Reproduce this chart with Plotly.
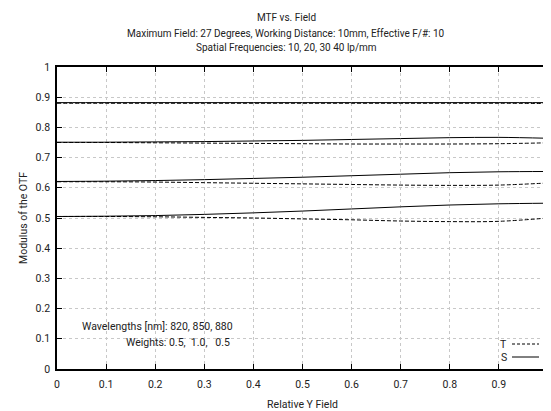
import plotly.graph_objects as go

field = [0.0, 0.1, 0.2, 0.3, 0.4, 0.5, 0.6, 0.7, 0.8, 0.9, 1.0]

s_10 = [0.882, 0.882, 0.882, 0.882, 0.882, 0.882, 0.882, 0.882, 0.882, 0.882, 0.882]
t_10 = [0.880, 0.880, 0.880, 0.880, 0.880, 0.880, 0.880, 0.880, 0.880, 0.880, 0.879]
s_20 = [0.751, 0.751, 0.752, 0.753, 0.755, 0.757, 0.760, 0.763, 0.766, 0.767, 0.764]
t_20 = [0.750, 0.750, 0.749, 0.748, 0.747, 0.746, 0.745, 0.745, 0.745, 0.746, 0.749]
s_30 = [0.621, 0.622, 0.624, 0.627, 0.631, 0.635, 0.640, 0.645, 0.650, 0.653, 0.654]
t_30 = [0.620, 0.620, 0.619, 0.617, 0.615, 0.613, 0.611, 0.609, 0.608, 0.609, 0.616]
s_40 = [0.505, 0.506, 0.508, 0.512, 0.517, 0.523, 0.530, 0.537, 0.543, 0.547, 0.549]
t_40 = [0.505, 0.505, 0.504, 0.502, 0.500, 0.497, 0.494, 0.490, 0.488, 0.489, 0.500]

x_ticks = [0, 0.1, 0.2, 0.3, 0.4, 0.5, 0.6, 0.7, 0.8, 0.9, 1]
x_labels = ["0", "0.1", "0.2", "0.3", "0.4", "0.5", "0.6", "0.7", "0.8", "0.9", "1"]
y_ticks = [0, 0.1, 0.2, 0.3, 0.4, 0.5, 0.6, 0.7, 0.8, 0.9, 1]
y_labels = ["0", "0.1", "0.2", "0.3", "0.4", "0.5", "0.6", "0.7", "0.8", "0.9", "1"]

title_lines = [
    "MTF vs. Field",
    "Maximum Field: 27 Degrees, Working Distance: 10mm, Effective F/#: 10",
    "Spatial Frequencies: 10, 20, 30 40 lp/mm",
]

FONT = "Roboto"
TXT = "#222"
W, H = 551, 411
OFF = 8  # page body offset
# plot area in page pixels: x 57..548, y 67..369
L = 57 - OFF
T = 67 - OFF
R = W - (548 - OFF)
B = H - (369 - OFF)
PW = W - L - R
PH = H - T - B


def px(x):
    return (x - OFF - L) / PW


def py(y):
    return (H - B - (y - OFF)) / PH


fig = go.Figure()
for s, t in [(s_10, t_10), (s_20, t_20), (s_30, t_30), (s_40, t_40)]:
    fig.add_trace(go.Scatter(x=field, y=t, mode="lines",
                             line=dict(color="black", width=1, dash="4px,2px", shape="spline"),
                             showlegend=False, hoverinfo="skip"))
    fig.add_trace(go.Scatter(x=field, y=s, mode="lines",
                             line=dict(color="black", width=1, shape="spline"),
                             showlegend=False, hoverinfo="skip"))

axis_common = dict(
    range=[0, 1], showline=True, linecolor="black", linewidth=1.5, mirror="ticks",
    ticks="inside", ticklen=5, tickwidth=1, tickcolor="black",
    showgrid=True, gridcolor="#c8c8c8", gridwidth=1, griddash="dot",
    zeroline=False, tickfont=dict(family=FONT, size=10.5, color=TXT),
    automargin=False,
)

fig.update_xaxes(**axis_common, tickvals=x_ticks, ticktext=x_labels, ticklabelstandoff=5,
                 title=dict(text="Relative Y Field", font=dict(family=FONT, size=10.5, color=TXT), standoff=10))
fig.update_yaxes(**axis_common, tickvals=y_ticks, ticktext=y_labels, ticklabelstandoff=3,
                 title=dict(text="Modulus of the OTF", font=dict(family=FONT, size=10.5, color=TXT), standoff=6))
fig.layout.xaxis.ticklabeloverflow = "allow"
fig.layout.yaxis.ticklabeloverflow = "allow"

annotations = []
for line_text, yc in zip(title_lines, [18, 33, 47]):
    annotations.append(dict(text=line_text, xref="paper", yref="paper", x=px(286), y=py(yc),
                            xanchor="center", yanchor="middle", showarrow=False,
                            font=dict(family=FONT, size=10, color=TXT)))

annotations += [
    dict(text="Wavelengths [nm]: 820, 850, 880", xref="paper", yref="paper",
         x=px(80), y=py(326), xanchor="left", yanchor="middle",
         showarrow=False, font=dict(family=FONT, size=10.5, color=TXT)),
    dict(text="Weights: 0.5,  1.0,   0.5", xref="paper", yref="paper",
         x=px(124), y=py(342), xanchor="left", yanchor="middle",
         showarrow=False, font=dict(family=FONT, size=10.5, color=TXT)),
    dict(text="T", xref="paper", yref="paper",
         x=px(509), y=py(344), xanchor="right", yanchor="middle",
         showarrow=False, font=dict(family=FONT, size=10.5, color=TXT)),
    dict(text="S", xref="paper", yref="paper",
         x=px(509), y=py(357), xanchor="right", yanchor="middle",
         showarrow=False, font=dict(family=FONT, size=10.5, color=TXT)),
]

shapes = [
    dict(type="line", xref="paper", yref="paper",
         x0=px(512), x1=px(539), y0=py(344), y1=py(344),
         line=dict(color="black", width=1, dash="3px,2px")),
    dict(type="line", xref="paper", yref="paper",
         x0=px(512), x1=px(539), y0=py(357), y1=py(357),
         line=dict(color="black", width=1)),
]

fig.update_layout(
    width=W, height=H, margin=dict(l=L, r=R, t=T, b=B, autoexpand=False),
    paper_bgcolor="white", plot_bgcolor="white",
    annotations=annotations, shapes=shapes,
    font=dict(family=FONT, size=10.5, color=TXT),
)

fig.write_html("out.html")
